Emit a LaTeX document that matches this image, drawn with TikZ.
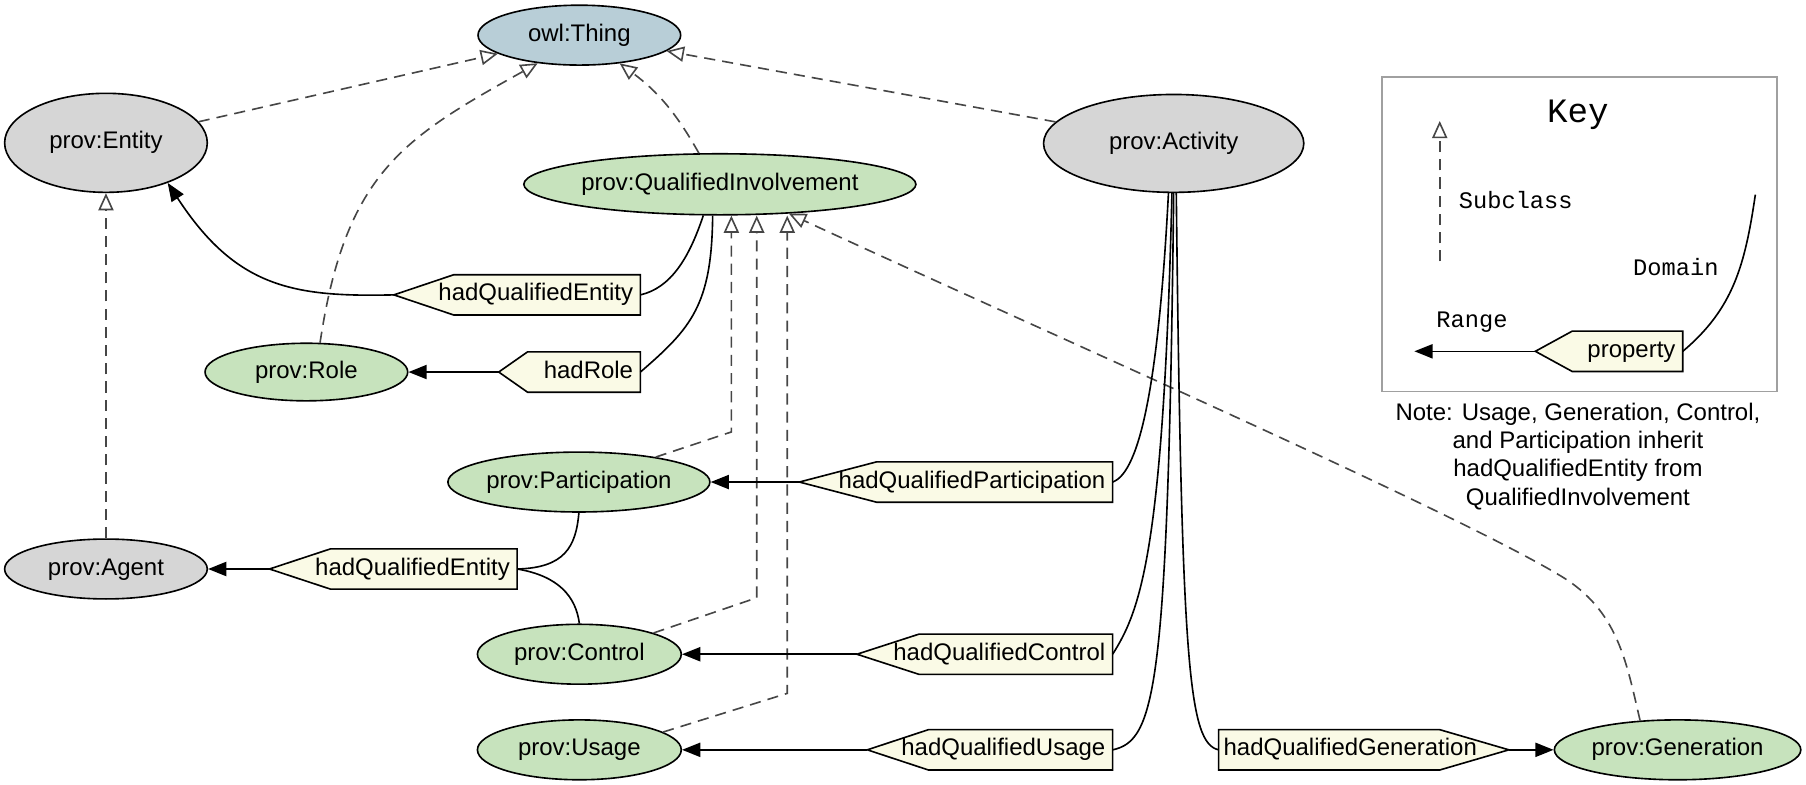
\documentclass[tikz,border=0pt]{standalone}
\usepackage{fontspec}
\setmainfont{Liberation Sans}
\setmonofont{Liberation Mono}
\usetikzlibrary{shapes.geometric,arrows.meta}

\definecolor{cinza}{RGB}{214,214,214}
\definecolor{verde}{RGB}{199,227,189}
\definecolor{azul}{RGB}{184,206,215}
\definecolor{creme}{RGB}{250,250,230}
\definecolor{traco}{RGB}{70,70,70}
\definecolor{moldura}{RGB}{160,160,160}

\tikzset{
	classe/.style={ellipse, draw=black, line width=0.8pt, inner sep=0pt,
		text height=8.6pt, text depth=2.6pt, font=\fontsize{11.85}{14}\selectfont},
	sub/.style={draw=traco, line width=0.8pt, dash pattern=on 5.5pt off 3.5pt,
		-{Triangle[open, length=8.5pt, width=7.5pt]}},
	dom/.style={draw=black, line width=0.8pt},
	ran/.style={dom, -{Triangle[length=9pt, width=7pt]}},
	propbox/.style={fill=creme, draw=black, line width=0.8pt, line join=miter},
	proptext/.style={inner sep=0pt, text height=8.6pt, text depth=2.6pt,
		font=\fontsize{11.85}{14}\selectfont},
	tt/.style={inner sep=0pt, font=\ttfamily\fontsize{11.7}{14}\selectfont},
}

% propriedade: nome, ponta, canto, lado direito, y, texto
\newcommand{\propL}[6]{%
	\draw[propbox] (#2,#5) -- (#3,#5-17.5) -- (#4,#5-17.5) -- (#4,#5+17.5) -- (#3,#5+17.5) -- cycle;
	\coordinate (#1-tip) at (#2,#5);
	\coordinate (#1-end) at (#4,#5);
	\node[proptext, anchor=east] (#1) at (#4-6,#5) {#6};
}

\begin{document}
\begin{tikzpicture}[x=0.02cm, y=-0.02cm]
	\useasboundingbox (0,0) rectangle (1568,681);

	% classes
	\node[classe, fill=azul, minimum width=3.52cm, minimum height=1.04cm] (thing) at (503,30.5) {owl:Thing};
	\node[classe, fill=cinza, minimum width=3.52cm, minimum height=1.72cm] (entity) at (92,124) {prov:Entity};
	\node[classe, fill=cinza, minimum width=4.52cm, minimum height=1.70cm] (activity) at (1019,124.5) {prov:Activity};
	\node[classe, fill=verde, minimum width=6.56cm, minimum height=1.06cm] (qinv) at (625,160) {prov:QualifiedInvolvement};
	\node[classe, fill=verde, minimum width=3.52cm, minimum height=1.00cm] (role) at (266,323) {prov:Role};
	\node[classe, fill=verde, minimum width=4.52cm, minimum height=1.04cm] (part) at (502.6,418.5) {prov:Participation};
	\node[classe, fill=cinza, minimum width=3.52cm, minimum height=1.04cm] (agent) at (92,494) {prov:Agent};
	\node[classe, fill=verde, minimum width=3.54cm, minimum height=1.04cm] (ctrl) at (503,568) {prov:Control};
	\node[classe, fill=verde, minimum width=3.54cm, minimum height=1.04cm] (usage) at (503,651) {prov:Usage};
	\node[classe, fill=verde, minimum width=4.28cm, minimum height=1.04cm] (gen) at (1456.5,651) {prov:Generation};

	% propriedades
	\propL{hqe}{342}{394}{556}{256}{hadQualifiedEntity}
	\propL{hrole}{433}{458}{556}{323}{hadRole}
	\propL{hqp}{694}{761}{966}{418.5}{hadQualifiedParticipation}
	\propL{hqa}{234}{287}{449}{494}{hadQualifiedEntity}
	\propL{hqc}{744}{798}{966}{568}{hadQualifiedControl}
	\propL{hqu}{753}{806}{966}{651}{hadQualifiedUsage}
	\draw[propbox] (1058,633.5) -- (1250,633.5) -- (1310,651) -- (1250,668.5) -- (1058,668.5) -- cycle;
	\coordinate (hqg-tip) at (1310,651);
	\coordinate (hqg-end) at (1058,651);
	\node[proptext, anchor=west] (hqg) at (1062,651) {hadQualifiedGeneration};

	% subclasses
	\draw[sub] (entity) -- (thing);
	\draw[sub] (activity) -- (thing);
	\draw[sub] (agent) -- (entity);
	\draw[sub] (qinv.124) to[bend right=12] (thing.-35);
	\draw[sub] (role.65) .. controls (300,150) and (350,120) .. (thing.-146);
	\draw[sub] (part.18) -- (635,375) -- (635,375 |- qinv.south);
	\draw[sub] (ctrl.16) -- (657,519) -- (657,519 |- qinv.south);
	\draw[sub] (usage.12) -- (683.5,602) -- (683.5,602 |- qinv.south);
	\draw[sub] (gen.142) .. controls (1412,575) and (1405,530) .. (1355,500)
		.. controls (1255,440) and (900,285) .. (qinv.-23);

	% dominio
	\draw[dom] (qinv.-118) .. controls (598,225) and (582,250) .. (hqe-end);
	\draw[dom] (qinv.-103) .. controls (618,265) and (600,285) .. (hrole-end);
	\draw[dom] (part.south) .. controls (500,475) and (490,493) .. (hqa-end);
	\draw[dom] (ctrl.north) .. controls (500,518) and (485,500) .. (hqa-end);
	\draw[dom] (activity.-96) .. controls (1006,330) and (990,410) .. (hqp-end);
	\draw[dom] (activity.-92) .. controls (1010,480) and (990,530) .. (hqc-end);
	\draw[dom] (activity.-90.5) .. controls (1014,600) and (1003,643) .. (hqu-end);
	\draw[dom] (activity.-87) .. controls (1026,580) and (1032,645) .. (hqg-end);

	% imagem
	\draw[ran] (hqe-tip) .. controls (255,258) and (205,250) .. (entity.-33);
	\draw[ran] (hrole-tip) -- (role);
	\draw[ran] (hqp-tip) -- (part);
	\draw[ran] (hqa-tip) -- (agent);
	\draw[ran] (hqc-tip) -- (ctrl);
	\draw[ran] (hqu-tip) -- (usage);
	\draw[ran] (hqg-tip) -- (gen);

	% chave
	\draw[moldura, line width=0.8pt] (1200,67) rectangle (1543,340);
	\node[inner sep=0pt, font=\ttfamily\fontsize{16.9}{20}\selectfont] (keytit) at (1370,100) {Key};
	\coordinate (subbase) at (1250,227);
	\coordinate (subtop) at (1250,105);
	\draw[sub] (subbase) -- (subtop);
	\node[tt] (subtxt) at (1316,174) {Subclass};
	\node[tt] (domtxt) at (1455,232) {Domain};
	\node[tt] (rantxt) at (1278,280) {Range};
	\propL{keyprop}{1333}{1365}{1461}{305}{property}
	\coordinate (rangeend) at (1228,305);
	\coordinate (domend) at (1524,169);
	\draw[ran] (keyprop-tip) -- (rangeend);
	\draw[dom] (keyprop-end) .. controls (1505,268) and (1515,230) .. (domend);

	\node[align=center, inner sep=0pt, font=\fontsize{11.85}{14}\selectfont] (nota) at (1370,396)
		{Note: Usage, Generation, Control,\\and Participation inherit\\hadQualifiedEntity from\\QualifiedInvolvement};
\end{tikzpicture}
\end{document}
